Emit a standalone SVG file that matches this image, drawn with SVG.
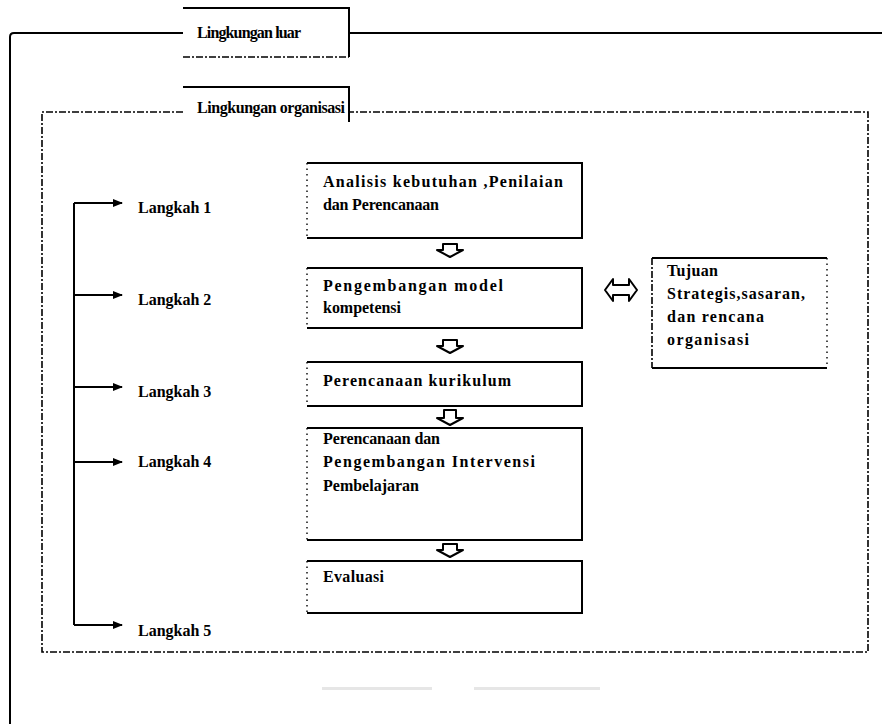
<svg xmlns="http://www.w3.org/2000/svg" width="882" height="724" viewBox="0 0 882 724">
<defs>
<marker id="ah" markerWidth="10" markerHeight="10" refX="9" refY="5" orient="auto" markerUnits="userSpaceOnUse">
<path d="M0,1 L10,5 L0,9 z" fill="#000"/>
</marker>
<style>
.t{font-family:"Liberation Serif","Times New Roman",serif;font-weight:bold;font-size:16px;fill:#000}
.solid{fill:none;stroke:#000;stroke-width:2}
.dash{fill:none;stroke:#000;stroke-width:1.6;stroke-dasharray:7 2 2 2}
.dot{fill:none;stroke:#000;stroke-width:1.4;stroke-dasharray:1.5 4}
.blk{fill:#fff;stroke:#000;stroke-width:2;stroke-linejoin:round}
.conn{fill:none;stroke:#000;stroke-width:2}
</style>
</defs>
<rect width="882" height="724" fill="#fff"/>

<g id="frame-luar">
<path class="solid" d="M183,33 H14 Q10,33 10,37 V724"/>
<path class="solid" d="M350,33 H882"/>
</g>
<g id="lingkungan-luar">
<path class="solid" d="M183,8 H349 V57"/>
<path class="dash" d="M183,57 H349"/>
<text class="t" x="197" y="38" textLength="104" lengthAdjust="spacing">Lingkungan luar</text>
</g>

<g id="frame-organisasi">
<path class="dash" d="M183,112 H42 V652 H868 V112 H350"/>
</g>
<g id="lingkungan-organisasi">
<path class="solid" d="M183,87 H349 V122"/>
<text class="t" x="197" y="113" textLength="148" lengthAdjust="spacing">Lingkungan organisasi</text>
</g>

<g id="box1">
<path class="solid" d="M307,163 H582 V238 H307"/>
<path class="dot" d="M307,163 V238"/>
<text class="t" x="323" y="187" textLength="240" lengthAdjust="spacing">Analisis kebutuhan ,Penilaian</text>
<text class="t" x="323" y="210" textLength="116" lengthAdjust="spacing">dan Perencanaan</text>
</g>
<g id="box2">
<path class="solid" d="M307,268 H582 V328 H307"/>
<path class="dot" d="M307,268 V328"/>
<text class="t" x="323" y="291" textLength="180" lengthAdjust="spacing">Pengembangan model</text>
<text class="t" x="323" y="313" textLength="78" lengthAdjust="spacing">kompetensi</text>
</g>
<g id="box3">
<path class="solid" d="M307,362 H582 V406 H307"/>
<path class="dot" d="M307,362 V406"/>
<text class="t" x="323" y="386" textLength="188" lengthAdjust="spacing">Perencanaan kurikulum</text>
</g>
<g id="box4">
<path class="solid" d="M307,428 H582 V540 H307"/>
<path class="dot" d="M307,428 V540"/>
<text class="t" x="323" y="444" textLength="117" lengthAdjust="spacing">Perencanaan dan</text>
<text class="t" x="323" y="467" textLength="212" lengthAdjust="spacing">Pengembangan Intervensi</text>
<text class="t" x="323" y="491" textLength="96" lengthAdjust="spacing">Pembelajaran</text>
</g>
<g id="box5">
<path class="solid" d="M307,561 H582 V613 H307"/>
<path class="dot" d="M307,561 V613"/>
<text class="t" x="323" y="582" textLength="61" lengthAdjust="spacing">Evaluasi</text>
</g>
<g id="tujuan">
<path class="solid" d="M652,258 H827 M652,368 H827"/>
<path class="dash" d="M652,258 V368"/>
<path class="dot" d="M827,258 V368"/>
<text class="t" x="667" y="276" textLength="51" lengthAdjust="spacing">Tujuan</text>
<text class="t" x="667" y="299" textLength="138" lengthAdjust="spacing">Strategis,sasaran,</text>
<text class="t" x="667" y="322" textLength="97" lengthAdjust="spacing">dan rencana</text>
<text class="t" x="667" y="345" textLength="82" lengthAdjust="spacing">organisasi</text>
</g>

<g id="langkah-labels">
<text class="t" x="138" y="213">Langkah 1</text>
<text class="t" x="138" y="305">Langkah 2</text>
<text class="t" x="138" y="397">Langkah 3</text>
<text class="t" x="138" y="467">Langkah 4</text>
<text class="t" x="138" y="636">Langkah 5</text>
</g>

<g id="connectors">
<path class="conn" d="M74,203 V625"/>
<path class="conn" marker-end="url(#ah)" d="M74,203 H122"/>
<path class="conn" marker-end="url(#ah)" d="M74,295 H122"/>
<path class="conn" marker-end="url(#ah)" d="M74,387 H122"/>
<path class="conn" marker-end="url(#ah)" d="M74,462 H122"/>
<path class="conn" marker-end="url(#ah)" d="M74,625 H122"/>
<path class="blk" d="M443,244 H457 V250 H463 L450,257 L437,250 H443 Z"/>
<path class="blk" d="M443,340 H457 V346 H463 L450,353 L437,346 H443 Z"/>
<path class="blk" d="M444,410 H456 V418 H463 L450,425 L437,418 H444 Z"/>
<path class="blk" d="M443,544 H457 V550 H463 L450,557 L437,550 H443 Z"/>
<path class="blk" d="M605,290 L613,279 V285 H629 V279 L637,290 L629,301 V295 H613 V301 Z"/>
</g>
<g id="scan-marks">
<rect x="322" y="687" width="110" height="3" fill="#e6e6e6"/>
<rect x="474" y="687" width="126" height="3" fill="#e6e6e6"/>
</g>
</svg>
